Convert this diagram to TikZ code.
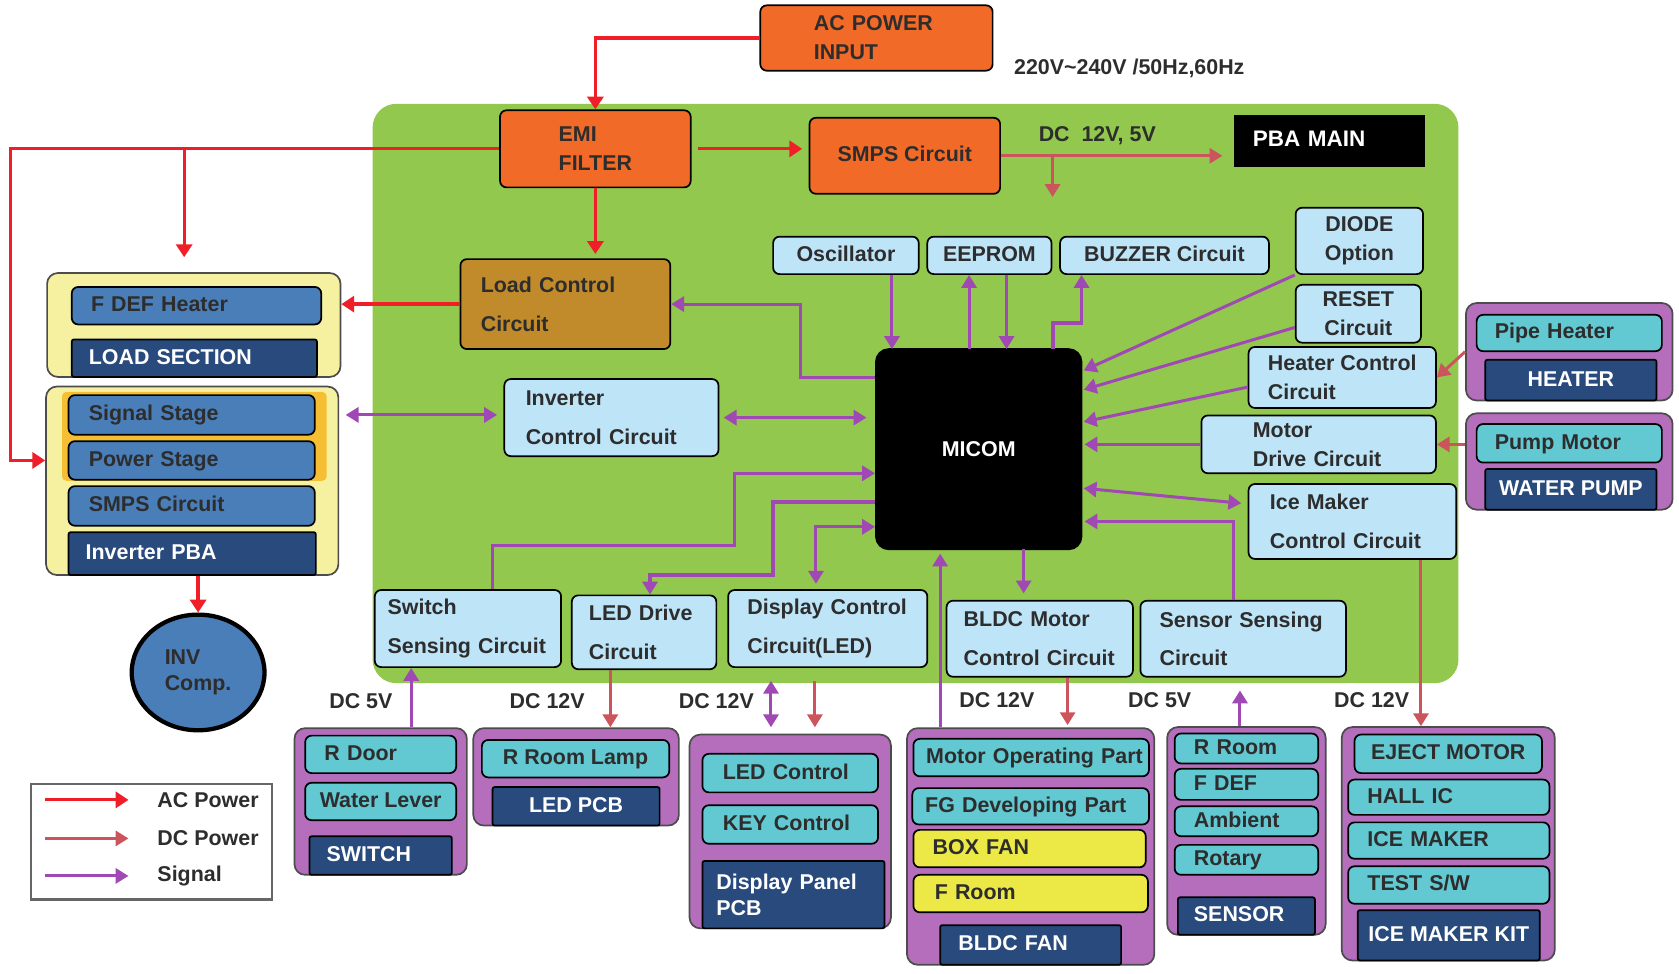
\documentclass[tikz,border=0pt]{standalone}
\usepackage{fontspec}
\setmainfont{Liberation Sans}[UprightFont=* Bold]
\usetikzlibrary{arrows.meta}
\usetikzlibrary{shapes.geometric}
\usetikzlibrary{calc}
\definecolor{pcbgreen}{RGB}{146,200,78}
\definecolor{pwrorange}{RGB}{241,106,40}
\definecolor{loadbrown}{RGB}{193,139,44}
\definecolor{ctlblue}{RGB}{190,228,248}
\definecolor{stageblue}{RGB}{74,126,185}
\definecolor{labelnavy}{RGB}{40,74,124}
\definecolor{paleyellow}{RGB}{246,241,160}
\definecolor{stagegold}{RGB}{246,190,50}
\definecolor{grouppurple}{RGB}{180,110,188}
\definecolor{partteal}{RGB}{98,200,210}
\definecolor{fanyellow}{RGB}{236,232,70}
\definecolor{sigpurple}{RGB}{160,72,180}
\definecolor{acred}{RGB}{240,30,40}
\definecolor{dcred}{RGB}{204,84,92}
\definecolor{txtgray}{RGB}{45,45,45}
\tikzset{blk/.style={draw=black,line width=0.8pt,rounded corners=3pt,inner ysep=1pt,text=txtgray,font=\fontsize{10}{12}\selectfont}}
\tikzset{power block/.style={blk,fill=pwrorange}, ctl block/.style={blk,fill=ctlblue}}
\tikzset{stage/.style={blk,fill=stageblue}, part/.style={blk,fill=partteal}, fan part/.style={blk,fill=fanyellow}}
\tikzset{group label/.style={blk,fill=labelnavy,text=white,rounded corners=1pt}}
\tikzset{part group/.style={draw=black!70,line width=0.8pt,fill=grouppurple,rounded corners=5pt}}
\tikzset{inv group/.style={draw=black!70,line width=0.8pt,fill=paleyellow,rounded corners=5pt}}
\tikzset{loose lines/.style={font=\fontsize{10}{18}\selectfont}, tight lines/.style={font=\fontsize{10}{13.5}\selectfont}}
\tikzset{one line/.style={text height=7.5pt,text depth=2pt}}
\tikzset{pad/.style 2 args={inner xsep=#1,text width=#2,align=left}}
\tikzset{dc label/.style={text=txtgray,font=\fontsize{10}{12}\selectfont}}
\tikzset{ac line/.style={draw=acred,line width=1.5pt,>={Triangle[length=6pt,width=7.5pt]}}}
\tikzset{dc line/.style={draw=dcred,line width=1.4pt}}
\tikzset{sig line/.style={draw=sigpurple,line width=1.4pt}}

\begin{document}
\begin{tikzpicture}[x=0.5pt,y=-0.5pt,>={Triangle[length=6pt,width=7pt]}]
  \useasboundingbox (0,0) rectangle (1568,909);

  %PBA MAIN基板
  \fill[pcbgreen, rounded corners=11pt] (348,97) rectangle (1362,638);

  %電源入力
  \node[power block, minimum width=108.5pt, minimum height=30.5pt, tight lines, pad={25pt}{58.5pt}] (acin) at (818.5,35.5) {AC POWER\\INPUT};
  \node[dc label, anchor=west] (volt) at (940,64) {220V\textasciitilde240V /50Hz,60Hz};
  \node[power block, minimum width=89pt, minimum height=36pt, tight lines, align=left] (emi) at (556,139) {EMI\\FILTER};
  \node[power block, minimum width=89pt, minimum height=35.5pt, one line] (smps) at (845,145.5) {SMPS Circuit};
  \node[fill=black, minimum width=89.5pt, minimum height=24.5pt, text=white, one line, pad={9pt}{71.5pt}, font=\fontsize{10.5}{12}\selectfont] (pba) at (1241.5,131.5) {PBA MAIN};
  \node[dc label, anchor=west] (dcv) at (963,127) {DC\ \ 12V, 5V};

  %制御回路
  \node[blk, fill=loadbrown, minimum width=98pt, minimum height=42pt, loose lines, pad={9.5pt}{79pt}] (load) at (528,284) {Load Control\\Circuit};
  \node[ctl block, minimum width=100pt, minimum height=36pt, loose lines, pad={10pt}{80pt}] (inv) at (571,390) {Inverter\\Control Circuit};
  \node[blk, fill=black, rounded corners=6pt, minimum width=96pt, minimum height=93.5pt, text=white] (micom) at (914,419.5) {MICOM};
  \node[ctl block, minimum width=68pt, minimum height=17.5pt, one line] (osc) at (790,238.5) {Oscillator};
  \node[ctl block, minimum width=58pt, minimum height=17.5pt, one line] (eeprom) at (924,238.5) {EEPROM};
  \node[ctl block, minimum width=97.5pt, minimum height=17.5pt, one line] (buzzer) at (1087.5,238.5) {BUZZER Circuit};
  \node[ctl block, minimum width=59.5pt, minimum height=31pt, tight lines, align=center] (diode) at (1269.5,225) {DIODE\\Option};
  \node[ctl block, minimum width=58.5pt, minimum height=27pt, tight lines, align=center] (reset) at (1268.5,293) {RESET\\Circuit};
  \node[ctl block, minimum width=87.5pt, minimum height=28.5pt, tight lines, align=left] (heatctl) at (1253.5,352.5) {Heater Control\\Circuit};
  \node[ctl block, minimum width=109.5pt, minimum height=27pt, tight lines, pad={24pt}{61.5pt}] (motdrv) at (1231.5,415) {Motor\\Drive Circuit};
  \node[ctl block, minimum width=97pt, minimum height=35pt, loose lines, pad={10pt}{77pt}] (icectl) at (1263,487) {Ice Maker\\Control Circuit};
  \node[ctl block, minimum width=87pt, minimum height=36pt, loose lines, pad={6pt}{75pt}] (swsens) at (437,587) {Switch\\Sensing Circuit};
  \node[ctl block, minimum width=67.5pt, minimum height=34.5pt, loose lines, pad={8pt}{51.5pt}] (leddrv) at (601.5,590.5) {LED Drive\\Circuit};
  \node[ctl block, minimum width=93pt, minimum height=36pt, loose lines, pad={9pt}{75pt}] (dispctl) at (773,587) {Display Control\\Circuit(LED)};
  \node[ctl block, minimum width=87pt, minimum height=35.5pt, loose lines, pad={8pt}{71pt}] (bldcctl) at (971,596.5) {BLDC Motor\\Control Circuit};
  \node[ctl block, minimum width=96pt, minimum height=35.5pt, loose lines, pad={9pt}{78pt}] (senctl) at (1161,596.5) {Sensor Sensing\\Circuit};

  %LOAD SECTION
  \node[inv group, minimum width=137pt, minimum height=48.5pt] (loadsec) at (181,303.5) {};
  \node[stage, minimum width=116.5pt, minimum height=17.5pt, one line, pad={9pt}{98.5pt}] (fdef) at (183.5,285.5) {F DEF Heater};
  \node[group label, minimum width=114.5pt, minimum height=17.5pt, one line, pad={8pt}{98.5pt}] (loadlbl) at (181.5,334.5) {LOAD SECTION};

  %Inverter PBA
  \node[inv group, minimum width=136.5pt, minimum height=88pt] (invpba) at (179.5,449) {};
  \fill[stagegold, rounded corners=2pt] (58,366) rectangle (305,449);
  \node[stage, minimum width=115pt, minimum height=18.5pt, one line, pad={9.5pt}{96pt}] (sigst) at (179,387.5) {Signal Stage};
  \node[stage, minimum width=115pt, minimum height=18pt, one line, pad={9.5pt}{96pt}] (powst) at (179,430) {Power Stage};
  \node[stage, minimum width=115pt, minimum height=18.5pt, one line, pad={9.5pt}{96pt}] (smpsst) at (179,472.5) {SMPS Circuit};
  \node[group label, minimum width=115.5pt, minimum height=20pt, one line, pad={8pt}{99.5pt}] (invlbl) at (179.5,517) {Inverter PBA};
  \node[ellipse, draw=black, line width=2pt, fill=stageblue, minimum width=62pt, minimum height=54pt, inner sep=0pt, text=txtgray, align=left, font=\fontsize{10}{12}\selectfont] (comp) at (185,628) {INV\\Comp.};

  %HEATER / WATER PUMP
  \node[part group, minimum width=96.5pt, minimum height=45.5pt] (heater) at (1465.5,328.5) {};
  \node[part, minimum width=86.5pt, minimum height=17pt, one line, pad={8.5pt}{69.5pt}] (pipe) at (1465.5,311) {Pipe Heater};
  \node[group label, minimum width=80pt, minimum height=19pt, one line] (heatlbl) at (1467,355) {HEATER};
  \node[part group, minimum width=96.5pt, minimum height=45pt] (pump) at (1465.5,431) {};
  \node[part, minimum width=86.5pt, minimum height=18pt, one line, pad={8.5pt}{69.5pt}] (pumpm) at (1465.5,414) {Pump Motor};
  \node[group label, minimum width=80pt, minimum height=19pt, one line] (pumplbl) at (1467,457) {WATER PUMP};

  %SWITCH
  \node[part group, minimum width=80.5pt, minimum height=68.5pt] (swbox) at (355.5,748.5) {};
  \node[part, minimum width=70.5pt, minimum height=17.5pt, one line, pad={9pt}{52.5pt}] (rdoor) at (355.5,704.5) {R Door};
  \node[part, minimum width=70.5pt, minimum height=17.5pt, one line] (wlev) at (355.5,748.5) {Water Lever};
  \node[group label, minimum width=66.5pt, minimum height=18pt, one line, pad={8pt}{50.5pt}] (swlbl) at (355.5,799) {SWITCH};

  %LED PCB
  \node[part group, minimum width=96pt, minimum height=45.5pt] (ledpcb) at (538,725.5) {};
  \node[part, minimum width=87.5pt, minimum height=17.5pt, one line] (rlamp) at (537.5,708.5) {R Room Lamp};
  \node[group label, minimum width=78pt, minimum height=18pt, one line] (ledlbl) at (538,753) {LED PCB};

  %Display Panel PCB
  \node[part group, minimum width=94pt, minimum height=90.5pt] (disp) at (738,776.5) {};
  \node[part, minimum width=82pt, minimum height=18pt, one line, pad={9.5pt}{63pt}] (ledctl) at (738,722) {LED Control};
  \node[part, minimum width=82pt, minimum height=18pt, one line, pad={9.5pt}{63pt}] (keyctl) at (738,770) {KEY Control};
  \node[group label, minimum width=85pt, minimum height=31.5pt, pad={6.5pt}{72pt}] (displbl) at (741,835.5) {Display Panel\\PCB};

  %BLDC FAN
  \node[part group, minimum width=115.5pt, minimum height=110.5pt] (bldcfan) at (962.5,790.5) {};
  \node[part, minimum width=110pt, minimum height=17.5pt, one line, pad={6pt}{98pt}] (motop) at (963,707.5) {\mbox{Motor Operating Part}};
  \node[part, minimum width=110.5pt, minimum height=17pt, one line, pad={6pt}{98.5pt}] (fgdev) at (962.5,753) {\mbox{FG Developing Part}};
  \node[fan part, minimum width=108.5pt, minimum height=17.5pt, one line, pad={9pt}{90.5pt}] (boxfan) at (961.5,792.5) {BOX FAN};
  \node[fan part, minimum width=109.5pt, minimum height=17.5pt, one line, pad={10pt}{89.5pt}] (froom) at (962.5,834.5) {F Room};
  \node[group label, minimum width=84.5pt, minimum height=18.5pt, one line, pad={8.5pt}{67.5pt}] (fanlbl) at (962.5,882.5) {BLDC FAN};

  %SENSOR
  \node[part group, minimum width=74pt, minimum height=97pt] (sensor) at (1164,776) {};
  \node[part, minimum width=67pt, minimum height=14pt, one line, pad={9pt}{49pt}] (rroom) at (1164,699) {R Room};
  \node[part, minimum width=67pt, minimum height=14.5pt, one line, pad={9pt}{49pt}] (fdefs) at (1164,732.5) {F DEF};
  \node[part, minimum width=67pt, minimum height=14pt, one line, pad={9pt}{49pt}] (amb) at (1164,767) {Ambient};
  \node[part, minimum width=67pt, minimum height=14pt, one line, pad={9pt}{49pt}] (rot) at (1164,803) {Rotary};
  \node[group label, minimum width=64pt, minimum height=17.5pt, one line, pad={7.5pt}{49pt}] (senlbl) at (1164,855.5) {SENSOR};

  %ICE MAKER KIT
  \node[part group, minimum width=99.5pt, minimum height=109pt] (icekit) at (1352.5,788) {};
  \node[part, minimum width=87.5pt, minimum height=18pt, one line] (eject) at (1352.5,704) {EJECT MOTOR};
  \node[part, minimum width=94pt, minimum height=16.5pt, one line, pad={9pt}{76pt}] (hall) at (1353,744.5) {HALL IC};
  \node[part, minimum width=94pt, minimum height=17pt, one line, pad={9pt}{76pt}] (icemk) at (1353,785) {ICE MAKER};
  \node[part, minimum width=94pt, minimum height=17.5pt, one line, pad={9pt}{76pt}] (test) at (1353,826.5) {TEST S/W};
  \node[group label, minimum width=85pt, minimum height=23.5pt, one line] (kitlbl) at (1353,873.5) {ICE MAKER KIT};

  %電圧ラベル
  \node[dc label] (dc1) at (337,655) {DC 5V};
  \node[dc label] (dc2) at (511,655) {DC 12V};
  \node[dc label] (dc3) at (669,655) {DC 12V};
  \node[dc label] (dc4) at (931,654) {DC 12V};
  \node[dc label] (dc5) at (1083,654) {DC 5V};
  \node[dc label] (dc6) at (1281,654) {DC 12V};

  %AC Power
  \coordinate (acl) at (10,139);
  \coordinate (acb) at (172,139);
  \draw[ac line,->] (acin.west) -| (emi.north);
  \draw[ac line,->] (emi.west) -- (acl) |- (invpba.west |- powst);
  \draw[ac line,->,shorten >=7pt] (acb) -- (acb |- loadsec.north);
  \draw[ac line,->,shorten <=3pt,shorten >=3pt] (emi.east) -- (emi.east -| smps.west);
  \draw[ac line,->,shorten >=2pt] (emi.south) -- (emi.south |- load.north);
  \draw[ac line,->] (load.west) -- (load.west -| loadsec.east);
  \draw[ac line,->] (comp.north |- invpba.south) -- (comp.north);

  %DC Power
  \coordinate (dcb) at (983,145.5);
  \coordinate (dcend) at (983,184);
  \coordinate (xled) at (570,0);
  \coordinate (xdc) at (761,0);
  \coordinate (xbl) at (997,0);
  \coordinate (xim) at (1327,0);
  \draw[dc line,->,shorten >=5pt] (smps.east) -- (smps.east -| pba.west);
  \draw[dc line,->] (dcb) -- (dcend);
  \draw[dc line,->] (heater.west) -- (heatctl.east);
  \draw[dc line,->] (pump.west |- motdrv) -- (motdrv.east);
  \draw[dc line,->] (xled |- leddrv.south) -- (xled |- ledpcb.north);
  \draw[dc line,->,shorten <=6pt,shorten >=3pt] (xdc |- dispctl.south) -- (xdc |- disp.north);
  \draw[dc line,->,shorten >=1pt] (xbl |- bldcctl.south) -- (xbl |- bldcfan.north);
  \draw[dc line,->] (xim |- icectl.south) -- (xim |- icekit.north);

  %Signal
  \coordinate (ldk) at (748,353);
  \coordinate (mosc) at (833,326);
  \coordinate (mee1) at (905,326);
  \coordinate (mee2) at (940,326);
  \coordinate (mbz) at (983,326);
  \coordinate (bzk) at (1010,302);
  \coordinate (mdi) at (1012,346);
  \coordinate (mre) at (1012,364);
  \coordinate (mhc) at (1012,394);
  \coordinate (mim) at (1012,456);
  \coordinate (snk) at (1152,487);
  \coordinate (mbl) at (956,513);
  \coordinate (mfan) at (878,513);
  \coordinate (swk1) at (460,509);
  \coordinate (swk2) at (686,442);
  \coordinate (lek1) at (722,469);
  \coordinate (lek2) at (607,537);
  \coordinate (dsk) at (762,492);
  \coordinate (xds) at (720,0);
  \coordinate (xsw) at (384,0);
  \coordinate (xsn) at (1158,0);
  \draw[sig line,<->,shorten <=3pt,shorten >=3pt] (invpba.east |- sigst) -- (inv.west |- sigst);
  \draw[sig line,<->,shorten <=2pt,shorten >=4pt] (inv.east) -- (inv.east -| micom.west);
  \draw[sig line,->] (ldk -| micom.west) -- (ldk) |- (load.east);
  \draw[sig line,->] (mosc |- osc.south) -- (mosc);
  \draw[sig line,->] (mee1) -- (mee1 |- eeprom.south);
  \draw[sig line,->] (mee2 |- eeprom.south) -- (mee2);
  \draw[sig line,->,line width=1.8pt] (mbz) |- (bzk) -- (bzk |- buzzer.south);
  \draw[sig line,->] (diode.south west) -- (mdi);
  \draw[sig line,->] ($(reset.south west)+(0,-15)$) -- (mre);
  \draw[sig line,->] ($(heatctl.west)+(0,9)$) -- (mhc);
  \draw[sig line,->,shorten >=1pt] (motdrv.west) -- (motdrv.west -| micom.east);
  \draw[sig line,<->] (mim) -- ($(icectl.west)+(-6,-17)$);
  \draw[sig line,->,shorten >=1pt] (snk |- senctl.north) -- (snk) -- (snk -| micom.east);
  \draw[sig line,->,shorten >=3pt] (mbl) -- (mbl |- bldcctl.north);
  \draw[sig line,->,shorten >=2pt] (mfan |- bldcfan.north) -- (mfan);
  \draw[sig line,->] (swk1 |- swsens.north) -- (swk1) -| (swk2) -- (swk2 -| micom.west);
  \draw[sig line,->,line width=1.9pt] (lek1 -| micom.west) -- (lek1) |- (lek2) -- (lek2 |- leddrv.north);
  \draw[sig line,<->,shorten >=2.5pt] (dsk -| micom.west) -- (dsk) -- (dsk |- dispctl.north);
  \draw[sig line,<->,shorten <=6pt,shorten >=3pt] (xds |- dispctl.south) -- (xds |- disp.north);
  \draw[sig line,->] (xsw |- swbox.north) -- (xsw |- swsens.south);
  \draw[sig line,->,shorten >=6pt] (xsn |- sensor.north) -- (xsn |- senctl.south);

  %凡例
  \node[draw=black!60, line width=1pt, minimum width=112.5pt, minimum height=54pt] (legend) at (141.5,786) {};
  \node[dc label, anchor=west] (lgac) at (140,747) {AC Power};
  \node[dc label, anchor=west] (lgdc) at (140,783) {DC Power};
  \node[dc label, anchor=west] (lgsig) at (140,818) {Signal};
  \coordinate (lga) at (42,747);
  \coordinate (lgd) at (42,783);
  \coordinate (lgs) at (42,818);
  \draw[ac line,->] (lga) -- ([xshift=-10pt]lgac.west);
  \draw[dc line,->] (lgd) -- ([xshift=-10pt]lgdc.west);
  \draw[sig line,->] (lgs) -- ([xshift=-10pt]lgsig.west);

\end{tikzpicture}
\end{document}
